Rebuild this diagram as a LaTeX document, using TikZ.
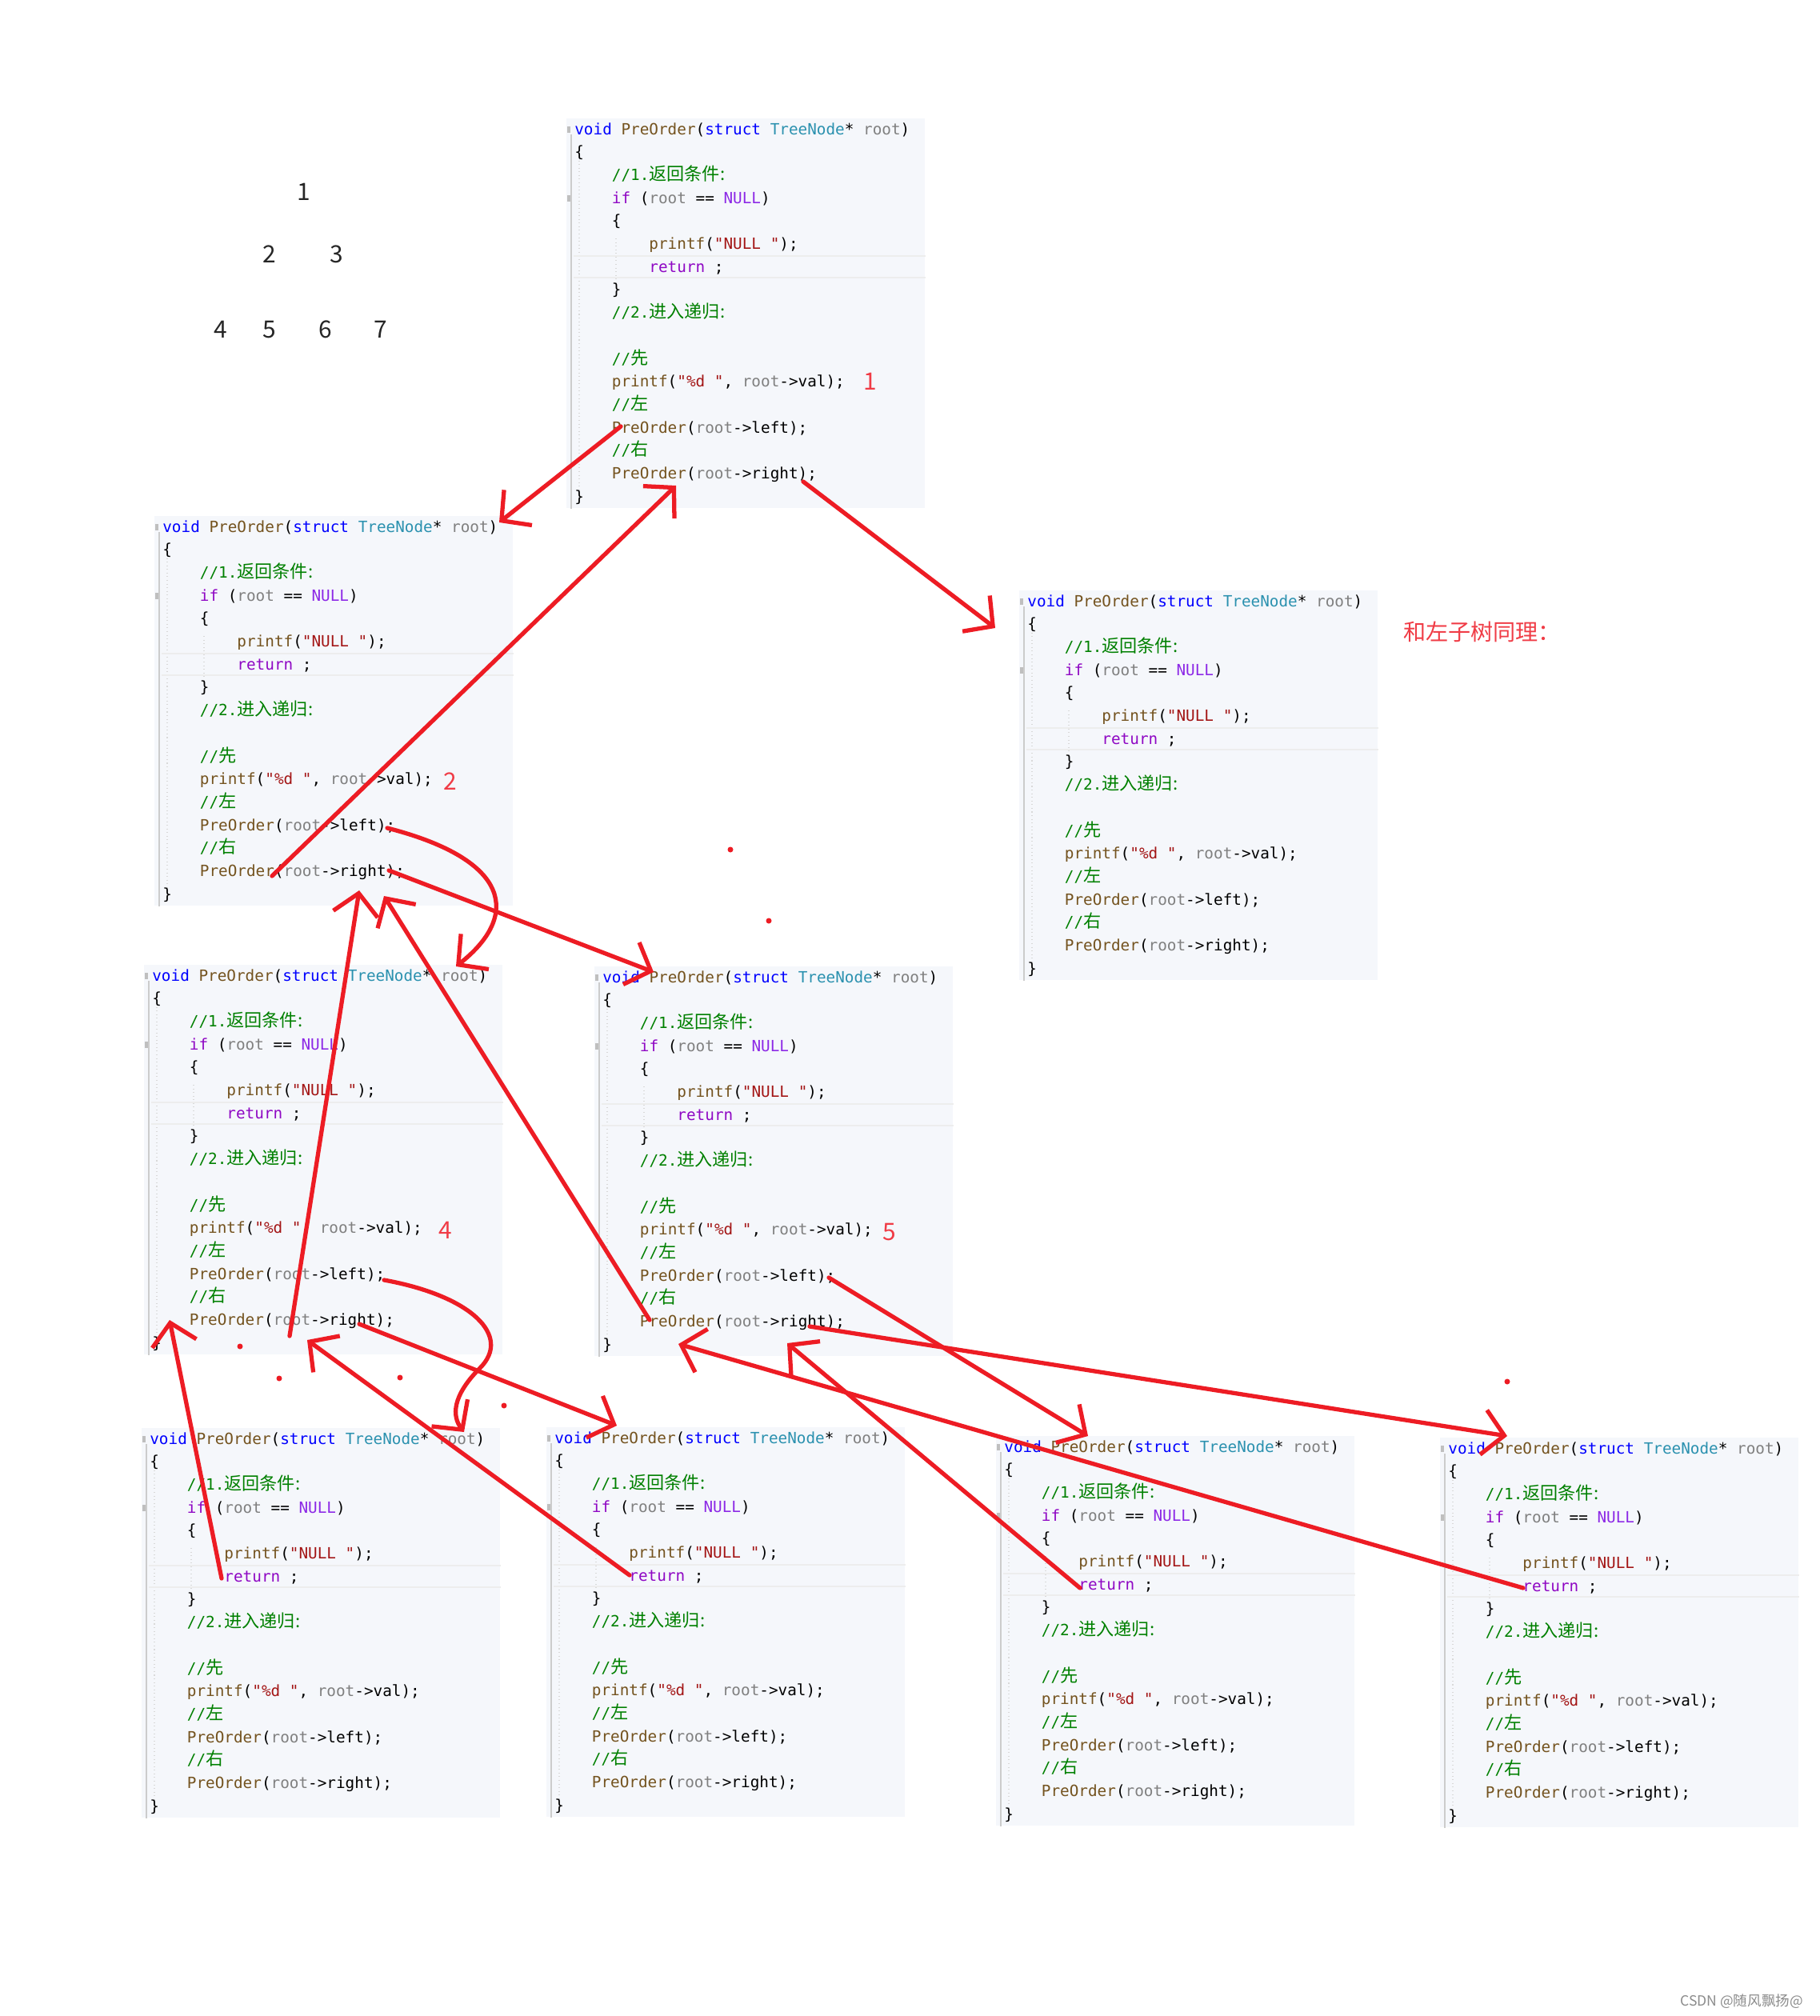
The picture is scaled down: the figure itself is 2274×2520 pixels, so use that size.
\documentclass[tikz,border=0pt]{standalone}
\usepackage{fontspec}
\setmonofont{DejaVu Sans Mono}
\newfontfamily\cjk{Noto Sans CJK SC}
\usepackage{xcolor}
\usepackage{tikz}
\usetikzlibrary{arrows.meta}

\definecolor{kwblue}{RGB}{0,0,255}
\definecolor{fnbrown}{RGB}{116,83,31}
\definecolor{tyteal}{RGB}{43,145,175}
\definecolor{prgray}{RGB}{128,128,128}
\definecolor{cmgreen}{RGB}{0,128,0}
\definecolor{ctlpurple}{RGB}{143,8,196}
\definecolor{macviolet}{RGB}{140,40,230}
\definecolor{strred}{RGB}{163,21,21}
\definecolor{codebg}{RGB}{245,247,251}
\definecolor{penred}{RGB}{237,28,36}
\definecolor{numred}{RGB}{240,60,70}

% syntax colours of the editor
\newcommand\ckw[1]{\textcolor{kwblue}{#1}}
\newcommand\cfn[1]{\textcolor{fnbrown}{#1}}
\newcommand\cty[1]{\textcolor{tyteal}{#1}}
\newcommand\cpr[1]{\textcolor{prgray}{#1}}
\newcommand\ccm[1]{\textcolor{cmgreen}{#1}}
\newcommand\cctl[1]{\textcolor{ctlpurple}{#1}}
\newcommand\cmac[1]{\textcolor{macviolet}{#1}}
\newcommand\cstr[1]{\textcolor{strred}{#1}}
\newcommand\ccn[1]{{\cjk\fontsize{12.6}{16.33}\selectfont #1}}
\newcommand\cind[1]{\hspace*{#1\fontcharwd\font`\0}}
\newcommand\codesize{\ttfamily\fontsize{11}{16.33}\selectfont\lineskiplimit=-20pt}

\newcommand\preorder{%
\ckw{void} \cfn{PreOrder}(\ckw{struct} \cty{TreeNode}* \cpr{root})\\
\{\\
\cind4\ccm{//1.\ccn{返回条件:}}\\
\cind4\cctl{if} (\cpr{root} == \cmac{NULL})\\
\cind4\{\\
\cind8\cfn{printf}(\cstr{"NULL "});\\
\cind8\cctl{return} ;\\
\cind4\}\\
\cind4\ccm{//2.\ccn{进入递归:}}\\
\mbox{}\\
\cind4\ccm{//\ccn{先}}\\
\cind4\cfn{printf}(\cstr{"\%d "}, \cpr{root}->val);\\
\cind4\ccm{//\ccn{左}}\\
\cind4\cfn{PreOrder}(\cpr{root}->left);\\
\cind4\ccm{//\ccn{右}}\\
\cind4\cfn{PreOrder}(\cpr{root}->right);\\
\}}

\tikzset{
  codebox/.style={fill=codebg, inner sep=0pt, minimum width=89.6mm, minimum height=97.4mm, anchor=north west},
  codetext/.style={inner sep=0pt, anchor=north west, align=left, font=\codesize},
  gutter/.style={draw=black!20, line width=1.2pt},
  guide/.style={draw=black!15, line width=0.6pt, dotted},
  curline/.style={draw=black!7, line width=0.9pt},
  redpen/.style={draw=penred, line width=3pt, line cap=round, line join=round},
  redarrow/.style={redpen, -{Straight Barb[length=15pt, width=32pt]}},
  rednum/.style={text=numred, font=\cjk\fontsize{17}{20}\selectfont},
  treenum/.style={text=black!85, font=\cjk\fontsize{17}{20}\selectfont},
}

\begin{document}
\begin{tikzpicture}[x=0.2mm, y=-0.2mm]
\fill[white] (0,0) rectangle (2274,2520);
\useasboundingbox (0,0) rectangle (2274,2520);

% the tree
\node[treenum] (tree1) at (380,240) {1};
\node[treenum] (tree2) at (337,318) {2};
\node[treenum] (tree3) at (421,318) {3};
\node[treenum] (tree4) at (276,412) {4};
\node[treenum] (tree5) at (337,412) {5};
\node[treenum] (tree6) at (407,412) {6};
\node[treenum] (tree7) at (476,412) {7};

% one block per call
\foreach \blk/\bx/\by in {call1/708/148, call2/193/645, call3/1274/738,
    call4/180/1206, call5/743/1208, null4l/177/1785, null4r/683/1784,
    null5l/1245/1795, null5r/1800/1797}{
  \node[codebox] (\blk) at (\bx,\by) {};
  \draw[gutter] ([shift={(6,20)}]\blk.north west) -- ([shift={(6,0)}]\blk.south west);
  \draw[guide] ([shift={(16,48)}]\blk.north west) -- ([shift={(16,-6)}]\blk.south west);
  \draw[guide] ([shift={(62,150)}]\blk.north west) -- ([shift={(62,205)}]\blk.north west);
  \draw[curline] ([shift={(9,172)}]\blk.north west) -- ([shift={(0,172)}]\blk.north east);
  \draw[curline] ([shift={(9,199)}]\blk.north west) -- ([shift={(0,199)}]\blk.north east);
  \fill[black!25] ([shift={(1,10)}]\blk.north west) rectangle ([shift={(5,18)}]\blk.north west);
  \fill[black!25] ([shift={(1,96)}]\blk.north west) rectangle ([shift={(5,104)}]\blk.north west);
  \node[codetext] (t\blk) at ([shift={(10,5)}]\blk.north west) {\preorder};
}

% order of printing
\node[rednum] (num1) at (1088,477) {1};
\node[rednum] (num2) at (563,977) {2};
\node[rednum] (num4) at (557,1538) {4};
\node[rednum] (num5) at (1112,1540) {5};
\node[text=numred, font=\cjk\fontsize{16}{19}\selectfont, anchor=west] (same) at (1748,790) {和左子树同理：};

% ends of the red strokes
\coordinate (go12s) at (776,533);
\coordinate (go12e) at (624,653);
\coordinate (back21s) at (340,1095);
\coordinate (back21e) at (845,607);
\coordinate (go13s) at (1004,602);
\coordinate (go13e) at (1244,785);
\coordinate (go24s) at (484,1035);
\coordinate (go24e) at (570,1208);
\coordinate (go25s) at (486,1088);
\coordinate (go25e) at (817,1215);
\coordinate (back42s) at (362,1670);
\coordinate (back42e) at (449,1113);
\coordinate (back52s) at (812,1650);
\coordinate (back52e) at (480,1120);
\coordinate (go4ls) at (480,1600);
\coordinate (bend4l) at (600,1710);
\coordinate (go4le) at (580,1790);
\coordinate (go4rs) at (449,1655);
\coordinate (go4re) at (771,1782);
\coordinate (back4ls) at (277,1973);
\coordinate (back4le) at (212,1650);
\coordinate (back4rs) at (787,1969);
\coordinate (back4re) at (384,1675);
\coordinate (go5ls) at (1036,1597);
\coordinate (go5le) at (1360,1795);
\coordinate (go5rs) at (1012,1658);
\coordinate (go5re) at (1884,1795);
\coordinate (back5ls) at (1350,1985);
\coordinate (back5le) at (984,1679);
\coordinate (back5rs) at (1904,1985);
\coordinate (back5re) at (848,1680);

% going down and coming back
\draw[redarrow] (go12s) -- (go12e);
\draw[redarrow] (back21s) -- (back21e);
\draw[redarrow] (go13s) -- (go13e);
\draw[redarrow] (go24s) .. controls +(156,40) and +(80,-63) .. (go24e);
\draw[redarrow] (go25s) -- (go25e);
\draw[redarrow] (back42s) -- (back42e);
\draw[redarrow] (back52s) -- (back52e);
\draw[redarrow] (go4ls) .. controls +(110,20) and +(40,-40) .. (bend4l)
  .. controls +(-35,35) and +(-15,-20) .. (go4le);
\draw[redarrow] (go4rs) -- (go4re);
\draw[redarrow] (back4ls) -- (back4le);
\draw[redarrow] (back4rs) -- (back4re);
\draw[redarrow] (go5ls) -- (go5le);
\draw[redarrow] (go5rs) -- (go5re);
\draw[redarrow] (back5ls) -- (back5le);
\draw[redarrow] (back5rs) -- (back5re);

% stray dots of the pen
\foreach \dx/\dy in {913/1062, 961/1151, 300/1683, 349/1723, 500/1722, 630/1757, 1884/1727}
  \fill[penred] (\dx,\dy) circle[radius=0.7mm];

\node[text=black!45, font=\cjk\fontsize{10}{12}\selectfont, anchor=east] (mark) at (2260,2502) {CSDN @随风飘扬@};
\end{tikzpicture}
\end{document}
